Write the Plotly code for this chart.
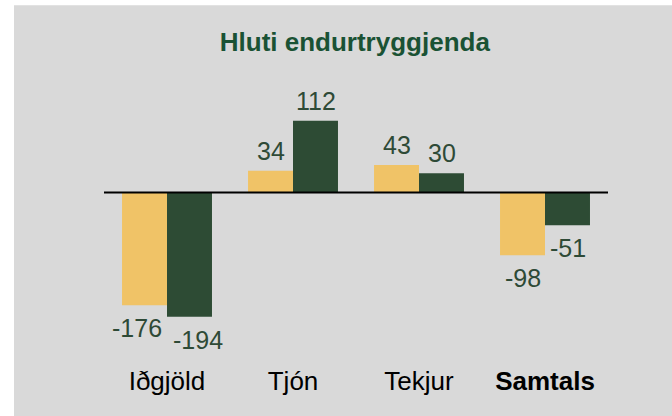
import plotly.graph_objects as go

# gögn
flokkar = ["Iðgjöld", "Tjón", "Tekjur", "<b>Samtals</b>"]
fyrra_ar = [-176, 34, 43, -98]
seinna_ar = [-194, 112, 30, -51]

titill = "Hluti endurtryggjenda"

gulur = "#f0c367"
graenn = "#2d4b34"
texta_litur = "#2e4a36"

fig = go.Figure()
for gildi, litur in [(fyrra_ar, gulur), (seinna_ar, graenn)]:
    fig.add_trace(go.Bar(
        x=flokkar,
        y=gildi,
        marker=dict(color=litur, line=dict(width=0)),
        hoverinfo="skip",
        showlegend=False,
    ))

# gildismerki; fyrsta parið er aðeins ýtt út til hliðanna eins og í frumritinu
for hlid, gildi in [(-1, fyrra_ar), (1, seinna_ar)]:
    for i, (flokkur, v) in enumerate(zip(flokkar, gildi)):
        xs = hlid * (30.5 if i == 0 else 22.5)
        fig.add_annotation(
            x=flokkur, y=v, text=str(v), showarrow=False,
            xanchor="center", yanchor="middle",
            xshift=xs, yshift=20 if v > 0 else -23,
            font=dict(family="Arial", size=25, color=texta_litur),
        )

# grár bakgrunnur og núlllína
fig.add_shape(type="rect", xref="paper", yref="paper",
              x0=-0.1786, x1=1.13, y0=-0.21, y1=1.31,
              fillcolor="#d9d9d9", line=dict(width=0), layer="below")
fig.add_shape(type="line", xref="paper", yref="y",
              x0=0, x1=1, y0=0, y1=0,
              line=dict(color="black", width=2))

fig.update_layout(
    width=672, height=416,
    margin=dict(l=104, r=64, t=90, b=53),
    paper_bgcolor="white",
    plot_bgcolor="rgba(0,0,0,0)",
    barmode="group",
    bargap=0.286,
    bargroupgap=0,
    title=dict(text="<b>" + titill + "</b>", x=0.528, xanchor="center",
               y=0.9, yanchor="middle",
               font=dict(family="Arial", size=26, color="#1a5234")),
    font=dict(family="Arial"),
    xaxis=dict(showgrid=False, zeroline=False, showline=False, ticks="",
               tickfont=dict(size=26, color="black")),
    yaxis=dict(visible=False, range=[-266, 160]),
)

# engin spássía á síðunni sjálfri
fig.write_html("out.html", config={"displayModeBar": False},
               post_script="document.body.style.margin='0';")
